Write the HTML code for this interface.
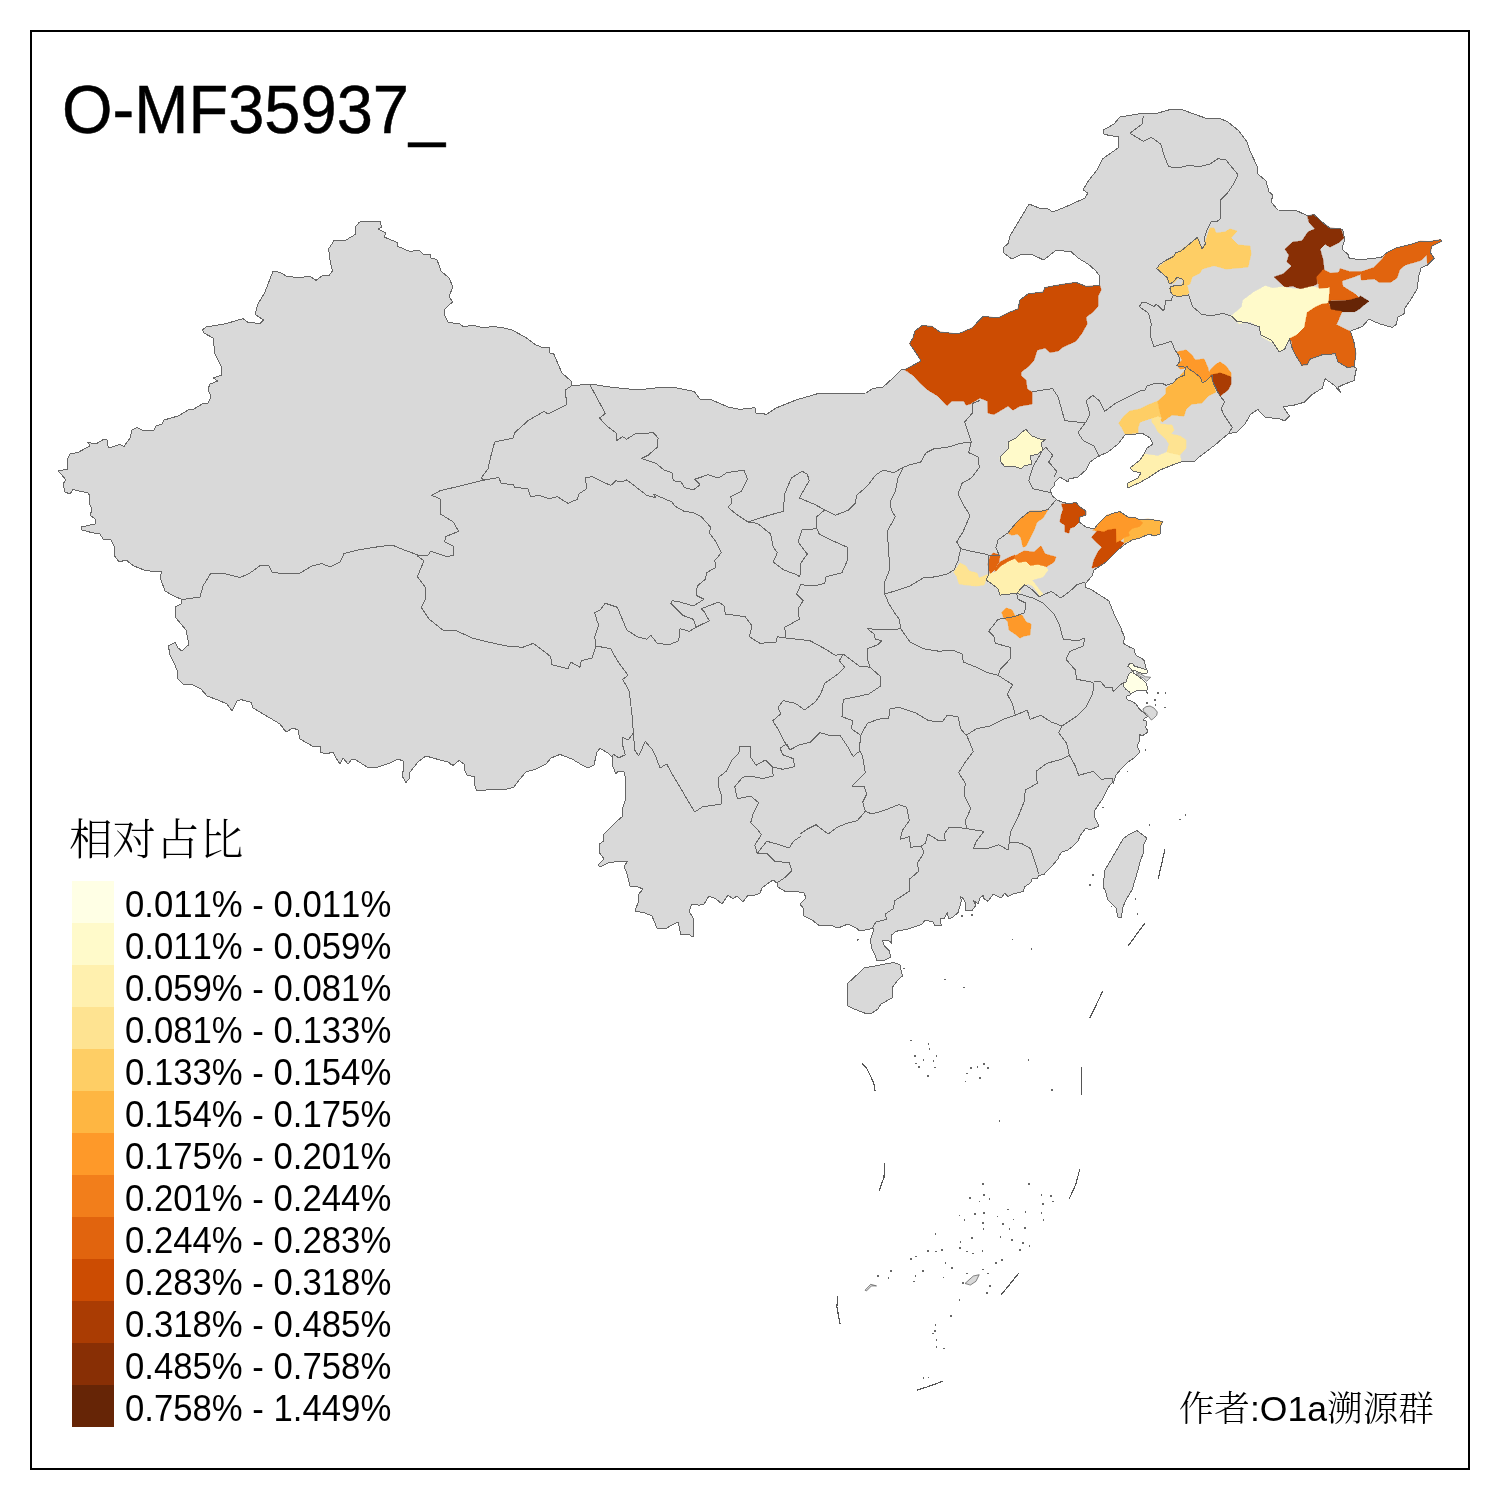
<!DOCTYPE html>
<html lang="zh">
<head>
<meta charset="utf-8">
<title>O-MF35937_</title>
<style>
html,body{margin:0;padding:0;background:#fff;}
body{width:1500px;height:1500px;position:relative;overflow:hidden;}
svg{position:absolute;left:0;top:0;display:block;}
.t{position:absolute;white-space:nowrap;color:#000;line-height:1;margin:0;font-kerning:none;font-variant-ligatures:none;}
.title{left:62.2px;top:76.1px;-webkit-text-stroke:0.5px #000;font-family:"Liberation Sans",sans-serif;font-size:67.9px;transform:scaleX(0.958);transform-origin:0 0;}
.ltitle{left:68.9px;top:819.3px;font-family:"Liberation Serif","Noto Serif CJK SC",serif;font-size:43.6px;font-weight:300;}
.lab{left:124.6px;font-family:"Liberation Sans",sans-serif;font-size:36px;transform:scaleX(0.964);transform-origin:0 0;}
.credit{left:1178.8px;top:1392.4px;font-size:35.6px;font-weight:300;font-family:"Liberation Sans","Noto Serif CJK SC",serif;}

</style>
</head>
<body>
<svg width="1500" height="1500" viewBox="0 0 1500 1500">
<rect x="0" y="0" width="1500" height="1500" fill="#ffffff"/>
<g id="map" stroke-linejoin="round" stroke-linecap="round" shape-rendering="crispEdges">
<path d="M90 496 L88 493 L73 489.6 L70 494 L65 492 L63 484 L66 480 L58.4 471 L68 469 L67 460 L70 454 L78 452.4 L90 446 L88 442.4 L96 444 L104 439 L107 440 L108.4 448 L120 444.4 L124 446.4 L130 438 L132 430 L137 427.6 L142 430 L154 430 L156 426 L162 424 L164 420 L178 416 L190 409 L194 409 L202 404 L208 403 L211 397 L208 389 L210 384 L218 381 L213 378 L222 375 L221 366 L215 354 L213 338 L204 333 L202.4 330 L206 327 L226 323.6 L243 318.6 L248 322.4 L260 323.4 L263.6 320 L255 314.4 L258 304 L265 292 L273 271 L280 272.4 L287 276.4 L298 277.6 L310 276.4 L316 280.4 L322 276 L329 275.4 L332.4 271 L330 260 L328.6 249 L334 240.6 L346 240 L356 234 L355 227 L359.6 222 L380 221 L381.6 227 L378.4 229 L386 233 L384 237 L397 242.4 L398 246.4 L410 251.6 L419 250 L424 255 L430 254.4 L431 258 L437 259.6 L441 271 L449 278 L453 287 L449 296 L452.4 302 L445 309 L444.4 315 L448.4 322.4 L460 324 L463 326.4 L474 325.6 L485 328 L492 326.4 L502 327.6 L512 330 L526 337.6 L536 345 L543 347.6 L550 347 L549.6 353 L553.6 353.6 L562 373 L571 381 L572 385.6 L588 384.4 L590 384 L610 387 L638 390 L660 387.4 L674 387.4 L694 391.4 L700 399 L712 400 L728 407 L740 409.4 L755 407.6 L755.6 413 L764 413.6 L765.6 415 L776 408 L796 400 L820 393 L832 393.6 L866 393 L873 388.4 L883 387 L893 378 L901 370 L905 369.6 L921 361 L918 356 L909.6 343.6 L913 338 L915 331 L922 325.6 L932 326.4 L940 332 L958 334 L972 328 L983 316.4 L998 318 L1010 312 L1018 309 L1020 300 L1028 294 L1043 292 L1045 287.6 L1062 284.4 L1076 282.4 L1086 286.4 L1100 285.6 L1099 275 L1095 270 L1088 264 L1078 258 L1071 251.6 L1056 250.4 L1043.6 260 L1032 254.4 L1020 255 L1011.6 259 L1004 253 L1003 248 L1008 243.6 L1010 236 L1029 204 L1040 208.4 L1048 209 L1053 212 L1070 205 L1085 198 L1088 193 L1083 190 L1089 180 L1097 170 L1102.4 159 L1118 148 L1119 137 L1104 134.4 L1103.6 130 L1114 124 L1120 117 L1138 114 L1156 113.6 L1170 109.6 L1182 109.6 L1194 114 L1208 119 L1220 118.4 L1228 122 L1239 131 L1247 142 L1250 151 L1257 166 L1258 174 L1266 181 L1269 192 L1273 195 L1271 202 L1278 210 L1296 210.4 L1308 216 L1314 214.4 L1322 222 L1330 228 L1341 229 L1342.8 229.5 L1344.7 239.7 L1341.9 249.1 L1348.4 254.7 L1349.3 258.8 L1364.3 259.3 L1381.1 257.5 L1386.7 252.8 L1396 248.1 L1410.9 244.4 L1420.3 241.2 L1429.6 241.6 L1440.8 239.7 L1441.7 241.2 L1431.5 246.3 L1430.5 252.8 L1434.3 258.4 L1427.7 264.9 L1421.2 267.7 L1418.4 277.1 L1417.5 288.3 L1410.9 299.5 L1404.4 308.8 L1404.4 313.5 L1397.9 317.2 L1396 324.7 L1392.3 327.5 L1379.2 323.7 L1368.9 319.1 L1362.4 326.5 L1350.3 331.2 L1354 342.4 L1355.9 353.6 L1354 366.7 L1356.4 368.5 L1354 380.7 L1343.7 384.4 L1338.1 387.2 L1340.9 392.8 L1334.4 385.3 L1325.1 378.8 L1322.3 388.1 L1312 394.7 L1304.5 402.1 L1295.2 404.9 L1283.1 406.8 L1289.6 416.1 L1284.9 420.8 L1279.3 418.9 L1265.3 417.1 L1257.9 409.6 L1250.4 414.3 L1244.8 424.5 L1237.3 432 L1228 433.9 L1214.9 445.1 L1200 456.3 L1195 461 L1181 462 L1174 464.4 L1160 470 L1148 478 L1140 482.4 L1128 488 L1127 483.6 L1138 478 L1141 473 L1133 471 L1130 468 L1140 460 L1144 454 L1147 448 L1153 444 L1150 438 L1143 433.6 L1136 434 L1125 435 L1118 444 L1108 452 L1098 456.4 L1090 462 L1086 470 L1078 477 L1069 479 L1068 482 L1060 477 L1055 482 L1054 486 L1050 490 L1052.4 496 L1057 500 L1062 502 L1069 504 L1076 502.4 L1080 507 L1086 511 L1085.6 515 L1080 517 L1079 522 L1086 527 L1094 529 L1098 524 L1106 516 L1114 513 L1120 511.6 L1128 517 L1136 518 L1140 520 L1148 519 L1163 521.6 L1160 527 L1160 534 L1154 536 L1149 534 L1140 538 L1132 540 L1124 545 L1118 550 L1112 556 L1106 562 L1100 566 L1094 570 L1092 576 L1086 583 L1085 587 L1092 590 L1109 601 L1114 614 L1122 630 L1121.3 630 L1123.3 634 L1124.7 638.7 L1123 642.7 L1124.7 644.3 L1130 647.3 L1134 648.7 L1134.7 652.7 L1136.7 655.7 L1141.3 658 L1144.7 661.3 L1145.3 666 L1146.7 669.3 L1147.7 672.7 L1144.7 674 L1139.3 672.7 L1136 671 L1133.7 670.7 L1132.7 671.9 L1134 673.3 L1138 676 L1143.3 680 L1146.3 683.3 L1147.3 686.7 L1147 690 L1146.7 692 L1148 694.3 L1146.7 692.3 L1146.3 690.3 L1137.3 690.3 L1130.7 693.7 L1130 695 L1126.3 696.3 L1126.3 698.3 L1128 700 L1132.7 701.7 L1136 704 L1138.7 708 L1141.3 711 L1144.7 713 L1147.3 716.7 L1144 718.7 L1143.3 720.3 L1146.7 721.3 L1147 724.7 L1145.3 727 L1147.3 730 L1148 732 L1142 736 L1139 734 L1140 740 L1137 746 L1140 752 L1134 758 L1128 762 L1122 768 L1116 775 L1114 781 L1111 784 L1108 788 L1105 794 L1102 800 L1099 804 L1095 810 L1094 816 L1097 822 L1099 826 L1090 830 L1086 828 L1080 836 L1078 841 L1072 847 L1068 850 L1062 852 L1059 856 L1058 859 L1052 866 L1046 872 L1044 874.7 L1038.7 875.3 L1037.3 878.7 L1032 878.7 L1030.7 882.7 L1024.7 886.7 L1023.3 891.3 L1013.3 894 L1008 896.7 L1004.7 893.3 L1001.3 898 L993.3 894 L988 901.3 L984 898.7 L983.3 895.3 L979.3 898.7 L978.7 904 L973.3 900.7 L976 905.3 L972 910.7 L965.3 910 L965.3 902.7 L963.3 898.7 L960.7 896.7 L961.3 901.3 L958 912.7 L952.7 917.3 L948.7 918.7 L947.3 912.7 L944 918.7 L940 918.7 L941.3 925.3 L934.7 925.3 L932.7 921.3 L924.7 920.7 L921.3 924.7 L913.3 927.3 L906.7 929.3 L896 931.3 L891.3 935.3 L892 943.3 L888 940 L882.7 940.7 L884 945.3 L889.3 950.7 L890.7 957.3 L885.3 960 L884 960 L877 961 L875 955 L871.6 948 L870.4 940 L873 932 L873 928 L870 929 L860 931 L856 928 L848 924 L838 928 L830 925 L820 926 L812 920 L804 916 L803 908 L800 904 L806 898 L804 893 L794 891 L786 892 L778 887 L777 883 L773 880 L767 884 L762 888 L760 893 L753 896 L748 895 L743 902 L737 896 L733 899 L728 895 L722 904 L716 899 L709 896 L704 904 L700 905 L698 905 L692 904 L689 911 L693 918 L694 926 L693 937 L688 934 L681 935 L678 922 L672 925 L665 929 L657 928 L652 916 L645 913 L635 911 L639 900 L638 895 L643 889 L638 887 L630 886 L627 874 L624 866 L628 861 L620 861 L608 863 L600 867 L598 865 L604 859 L599 852 L599 844 L604 841 L603 835 L610 828 L616 822 L623 816 L622 810 L626 798 L625.6 778 L624 772 L618 771 L616 774 L613 767 L612 757 L608 753 L600 748.4 L597 752 L594 765 L588 768 L582 765 L572 759 L560 754.4 L551 758 L546 764 L536 769 L526 772 L520 779 L514 787 L504 790 L490 789.6 L477 791 L474 784 L475 777 L467 775 L464 769 L465 765 L459 760.4 L454 765 L450 764 L454 766 L448 762 L440 760 L426 756 L418 762 L410 772 L409 779 L406 782.4 L402 776 L404 767 L403 761 L398 759 L390 763 L378 767 L367 767 L356 760 L352 759 L348 764 L343 758 L340 764 L336 758 L333 752 L326 754 L320 752 L320 746 L314 747 L300 739 L298 730 L293 728 L286 732 L280 724 L270 718 L253 708 L251 702.4 L241 699.6 L237 701 L232 711 L227 704 L218 700 L207 696 L201 689 L191 684 L183 684 L177 678 L177 670 L174 663 L170 655 L168.4 646 L175 642.4 L178 648 L182 651 L189 644.4 L186 630 L176 618 L175 607 L181 604 L182 599.6 L172 595 L165 591 L160 577 L162 571 L154 571.6 L144 570 L134 566 L126 560 L119 562 L114 555 L115 548 L111 540 L103 539 L100 534 L91 532.4 L82 530 L81 527 L95 524 L95 519 L90 515 L92 510 L89 502 Z" fill="#d9d9d9" stroke="none"/>
<path d="M1137 830.6 L1147 838 L1144 844 L1143.6 852 L1140 862 L1138 870 L1135 880 L1132 890 L1126 900 L1122.4 908 L1121.6 918 L1118 917 L1116 908 L1108 900 L1105 890 L1103 887 L1105 870 L1112 858 L1118 848 L1123 839 L1128 835 Z" fill="#d9d9d9" stroke="#666666" stroke-width="1"/>
<path d="M847 984 L860 972 L864 968 L880 965 L894 962.4 L900 965 L902.4 976 L897 981 L892 988 L892 998 L881 1004 L878 1009 L872 1013 L866 1013.6 L854 1009 L848 1006 L847 995 Z" fill="#d9d9d9" stroke="#666666" stroke-width="1"/>
<path d="M965.3 1283.2 L973.3 1276 L979.2 1274.7 L976 1281.3 L970.7 1284.8 Z" fill="#d9d9d9" stroke="#666666" stroke-width="0.8"/>
<path d="M865.3 1289.9 L870.7 1284.3 L876.5 1285.9 L871.5 1285.9 L866.7 1290.7 Z" fill="#d9d9d9" stroke="#666666" stroke-width="0.8"/>
<path d="M1143.3 708.7 L1146 706.7 L1150 706 L1154 708 L1157.3 712 L1156.7 715.3 L1153.3 718.7 L1151.3 720 L1148.7 716.7 L1146.7 714 L1144 712 Z" fill="#d9d9d9" stroke="#666666" stroke-width="0.8"/>
<path d="M1136.7 672.7 L1140.7 674 L1145.3 676.7 L1150.7 677.3 L1148.7 679.3 L1146.7 681.3 L1143.3 678 L1139.3 676 Z" fill="#d9d9d9" stroke="#666666" stroke-width="0.8"/>
<path d="M905 369.6 L921 361 L918 356 L909.6 343.6 L913 338 L915 331 L922 325.6 L932 326.4 L940 332 L958 334 L972 328 L983 316.4 L998 318 L1010 312 L1018 309 L1020 300 L1028 294 L1043 292 L1045 287.6 L1062 284.4 L1076 282.4 L1086 286.4 L1100 285.6 L1101 290 L1098 296 L1098 306 L1093 312 L1086 317 L1087 324 L1082 333 L1076 341 L1063 347 L1058 351 L1050 352.4 L1045 348 L1037 350 L1034 360 L1029 366 L1021 372 L1021 376 L1026 380 L1027 389 L1032 392 L1032 404 L1020 406 L1013 410 L1008 406 L994 414.4 L988 413 L987.6 401 L980 398 L970 404 L966 405 L964 401 L952 401 L947 405.6 L938 396 L928 390 L920 383 L914 376 Z" fill="#cc4c02" stroke="#cc4c02" stroke-width="0.6"/>
<path d="M1157 268 L1174 255 L1198 237.6 L1202 249 L1205 243 L1210 228 L1214 228 L1216 233 L1225 232 L1230 229 L1237 231 L1231 238 L1238 245 L1250 246 L1251 254 L1248 267 L1226 269 L1214 265.6 L1202 269 L1200 273 L1192 277 L1190 284 L1187 285 L1189 293 L1186 295.6 L1174 296 L1169.4 289 L1171 286.4 L1182 285 L1183.6 280 L1178 278 L1174 283 L1169 283.6 L1165 275 Z" fill="#fece65" stroke="#fece65" stroke-width="0.6"/>
<path d="M1308 216 L1314 214.4 L1322 222 L1330 228 L1341 229 L1344 238 L1339 242.4 L1330 247 L1325 244 L1320 249 L1323 260 L1324 270 L1318 277 L1317 284 L1308 288 L1300 289 L1293 286 L1285 287 L1274 277 L1283 274 L1292 266 L1287 262 L1289 255 L1285 249 L1293 242 L1302 241 L1308 232 L1315 229 L1309 222 Z" fill="#882f05" stroke="#882f05" stroke-width="0.6"/>
<path d="M1230.8 316.3 L1242 306.9 L1242.9 300.4 L1254.1 292 L1265.3 286 L1272.8 288.3 L1283.1 286.8 L1289.6 288.3 L1300.8 289.2 L1312 286.4 L1319.5 288.3 L1329.7 287.3 L1329.7 292 L1328.8 303.2 L1322.3 304.1 L1315.7 306.9 L1307.3 312.5 L1304.5 327.5 L1297.1 334.9 L1289.6 338.7 L1283.1 349.9 L1279.3 351.7 L1271.9 342.4 L1261.6 336.8 L1259.7 327.5 L1250.4 321.9 L1239.2 323.7 Z" fill="#fffaca" stroke="#fffaca" stroke-width="0.6"/>
<path d="M1316.7 277.1 L1323.2 269.6 L1330.7 273.3 L1339.1 272.4 L1340 268.7 L1349.3 271.5 L1362.4 271.5 L1373.6 267.7 L1382 259.3 L1386.7 252.8 L1396 248.1 L1410.9 244.4 L1420.3 241.2 L1429.6 241.6 L1440.8 239.7 L1441.7 241.2 L1431.5 246.3 L1430.5 252.8 L1434.3 258.4 L1427.7 264.9 L1426.8 254.7 L1421.2 260.3 L1405.3 264.9 L1399.7 269.6 L1396.9 278 L1390.4 282.3 L1379.2 282.3 L1374.5 278.9 L1361.5 279.9 L1360.5 274.3 L1353.1 277.1 L1341.9 280.8 L1342.8 286.4 L1354.9 293.9 L1358.7 297.6 L1348.4 300.4 L1330.7 300.4 L1328.8 303.2 L1329.7 292 L1329.7 287.3 L1319.5 288.3 Z" fill="#e1640e" stroke="#e1640e" stroke-width="0.6"/>
<path d="M1328.8 301.3 L1348.4 300.4 L1358.7 297.6 L1360.5 296.1 L1368.9 301.3 L1364.3 304.7 L1359.6 308.8 L1354.9 311.6 L1341.9 311.6 L1330.7 309.7 Z" fill="#662506" stroke="#662506" stroke-width="0.6"/>
<path d="M1289.6 338.7 L1297.1 334.9 L1304.5 327.5 L1307.3 312.5 L1315.7 306.9 L1322.3 304.1 L1328.8 303.2 L1330.7 309.7 L1341.9 311.6 L1336.3 324.7 L1347.5 330.3 L1350.3 331.2 L1354 342.4 L1355.9 353.6 L1354 366.7 L1347.5 367.6 L1338.1 362 L1335.3 353.6 L1328.8 354.5 L1323.2 354.5 L1310.1 359.2 L1307.3 364.8 L1301.7 365.2 L1297.1 357.3 L1292.4 348.9 L1291.5 340.5 Z" fill="#e1640e" stroke="#e1640e" stroke-width="0.6"/>
<path d="M1144 454 L1158 456 L1167 452 L1180 455 L1181 461 L1174 464.4 L1160 470 L1148 478 L1140 482.4 L1128 488 L1127 483.6 L1138 478 L1141 473 L1133 471 L1130 468 L1140 460 Z" fill="#fff0ae" stroke="#fff0ae" stroke-width="0.6"/>
<path d="M1152 418 L1158 416 L1161 419 L1160 424 L1172 425 L1174 430 L1171 434 L1180 436 L1186 440 L1186 448 L1180 455 L1167 452 L1169 444 L1166 439 L1158 432 L1155 426 L1152 422 Z" fill="#fee391" stroke="#fee391" stroke-width="0.6"/>
<path d="M1119 423 L1124 416 L1130 411 L1140 409 L1148 405 L1158 401 L1160 412 L1162 418 L1158 416 L1152 418 L1140 422 L1138 428 L1138 433 L1125 434 L1122 428 Z" fill="#fece65" stroke="#fece65" stroke-width="0.6"/>
<path d="M1158 401 L1166 394 L1166 388 L1174 383 L1180 376 L1187 368 L1194 373 L1201 379 L1204 382 L1211 375 L1214 386 L1216 392 L1208 396 L1202 403 L1192 404 L1186 409 L1184 416 L1172 415 L1162 422 L1161 419 L1162 418 L1160 412 Z" fill="#feb642" stroke="#feb642" stroke-width="0.6"/>
<path d="M1177 352 L1186 350 L1192 355 L1195 360 L1204 359 L1208 368 L1209 373 L1211 375 L1204 382 L1201 379 L1194 373 L1187 368 L1180 369 L1177 365 L1182 360 L1180 356 Z" fill="#fe9929" stroke="#fe9929" stroke-width="0.6"/>
<path d="M1211 369 L1215 365 L1220 362 L1226 366 L1231 373 L1231 377 L1226 375 L1220 373 L1214 374.4 L1211 375 L1209 373 Z" fill="#fe9929" stroke="#fe9929" stroke-width="0.6"/>
<path d="M1211 375 L1214 374.4 L1220 373 L1226 375 L1231 377 L1231 384 L1228 390 L1220 396 L1217 390 L1214 384 L1212 379 Z" fill="#aa3c03" stroke="#aa3c03" stroke-width="0.6"/>
<path d="M1000 457 L1004 453 L1008 449 L1008 442 L1016 438 L1022 432 L1026 429.6 L1032 436 L1040 439 L1046 439 L1041 443 L1043 450 L1038 454 L1030 456 L1032 464 L1024 466 L1021 469 L1014 466 L1004 466 L1001 462 Z" fill="#fffaca" stroke="#fffaca" stroke-width="0.6"/>
<path d="M1008 533 L1016 523 L1020 519 L1030 511 L1042 511 L1048 509.6 L1043 518 L1037 522 L1034 530 L1031 536 L1026 546 L1023 547 L1021 538 L1018 534 L1012 535 Z" fill="#fe9929" stroke="#fe9929" stroke-width="0.6"/>
<path d="M1062 504 L1069 504 L1076 502.4 L1080 507 L1086 511 L1086 515 L1080 517 L1079 522 L1074 527 L1070 528 L1069 533 L1065 532 L1065 525 L1060 522 L1061 516 L1063 510 Z" fill="#cc4c02" stroke="#cc4c02" stroke-width="0.6"/>
<path d="M1093 530 L1098 525 L1107 515 L1120 512 L1128 517 L1136 518 L1140 520 L1143 523 L1140 527 L1132 529 L1129 532 L1130 536 L1124 538 L1120 541 L1116 543 L1115.6 529 L1108 530 L1104 532 L1097 531 Z" fill="#fe9929" stroke="#fe9929" stroke-width="0.6"/>
<path d="M1140 520 L1148 519 L1163 521.6 L1160 527 L1160 534 L1154 536 L1149 534 L1140 538 L1132 540 L1124 543 L1124 538 L1130 536 L1129 532 L1132 529 L1140 527 L1143 523 Z" fill="#feb642" stroke="#feb642" stroke-width="0.6"/>
<path d="M1092 537 L1097 531 L1104 532 L1108 530 L1115.6 529 L1116 543 L1120 541 L1124 543 L1118 550 L1112 556 L1106 562 L1100 566 L1092 568 L1094 560 L1098 552 L1102 547 L1096 542 Z" fill="#cc4c02" stroke="#cc4c02" stroke-width="0.6"/>
<path d="M988 564 L990 557 L993 553 L1000 555 L999 562 L994 570 L990 574 L989 568 Z" fill="#e1640e" stroke="#e1640e" stroke-width="0.6"/>
<path d="M994 570 L1000 562 L1008 558 L1015 555 L1016 558 L1008 562 L1000 567 L996 572 Z" fill="#e1640e" stroke="#e1640e" stroke-width="0.6"/>
<path d="M1015 556 L1024 551 L1034 552 L1041 546 L1045 554 L1056 557 L1054 562 L1046 567 L1038 565 L1030 566 L1026 562 L1018 563 L1015 559 Z" fill="#f27e1b" stroke="#f27e1b" stroke-width="0.6"/>
<path d="M986 580 L989 574 L996 572 L1000 567 L1008 562 L1015 559 L1018 563 L1026 562 L1030 566 L1038 565 L1046 567 L1048 570 L1043 577 L1032 580 L1038 588 L1043 594 L1040 596 L1033 586 L1028 584 L1021 587 L1020 593 L1010 594 L1000 595 L998 589 L992 584 Z" fill="#fff0ae" stroke="#fff0ae" stroke-width="0.6"/>
<path d="M954 572 L960 563 L966 566 L969 571 L977 573 L979 578 L989 574 L986 580 L984 585 L976 586 L966 585 L959 584 L957 577 Z" fill="#fee391" stroke="#fee391" stroke-width="0.6"/>
<path d="M1002 612 L1006 608 L1012 610 L1015 616 L1022 615 L1026 622 L1031 624 L1030 635 L1024 636 L1020 638 L1015 634 L1009 630 L1008 622 L1004 618 Z" fill="#fe9929" stroke="#fe9929" stroke-width="0.6"/>
<path d="M1122.7 683.3 L1126.3 682 L1127.3 678 L1128.7 674 L1131.7 672 L1134 673.3 L1138 676 L1143.3 680 L1146.3 683.3 L1147.3 686.7 L1147 690 L1137.3 690.3 L1130.7 693.7 L1129.3 691.7 L1126.3 689.7 L1124.3 687.3 Z" fill="#ffffe5" stroke="#ffffe5" stroke-width="0.6"/>
<path d="M1127.7 666.3 L1130 663.3 L1132.7 663.1 L1134.3 666 L1140.7 668 L1146.7 669.7 L1147.7 673 L1144.7 674 L1139.3 672.7 L1136 671 L1133.7 670.7 L1131.3 669.3 L1129.3 667.3 Z" fill="#ffffe5" stroke="#ffffe5" stroke-width="0.6"/>
<path d="M90 496 L88 493 L73 489.6 L70 494 L65 492 L63 484 L66 480 L58.4 471 L68 469 L67 460 L70 454 L78 452.4 L90 446 L88 442.4 L96 444 L104 439 L107 440 L108.4 448 L120 444.4 L124 446.4 L130 438 L132 430 L137 427.6 L142 430 L154 430 L156 426 L162 424 L164 420 L178 416 L190 409 L194 409 L202 404 L208 403 L211 397 L208 389 L210 384 L218 381 L213 378 L222 375 L221 366 L215 354 L213 338 L204 333 L202.4 330 L206 327 L226 323.6 L243 318.6 L248 322.4 L260 323.4 L263.6 320 L255 314.4 L258 304 L265 292 L273 271 L280 272.4 L287 276.4 L298 277.6 L310 276.4 L316 280.4 L322 276 L329 275.4 L332.4 271 L330 260 L328.6 249 L334 240.6 L346 240 L356 234 L355 227 L359.6 222 L380 221 L381.6 227 L378.4 229 L386 233 L384 237 L397 242.4 L398 246.4 L410 251.6 L419 250 L424 255 L430 254.4 L431 258 L437 259.6 L441 271 L449 278 L453 287 L449 296 L452.4 302 L445 309 L444.4 315 L448.4 322.4 L460 324 L463 326.4 L474 325.6 L485 328 L492 326.4 L502 327.6 L512 330 L526 337.6 L536 345 L543 347.6 L550 347 L549.6 353 L553.6 353.6 L562 373 L571 381 L572 385.6 L588 384.4 L590 384 L610 387 L638 390 L660 387.4 L674 387.4 L694 391.4 L700 399 L712 400 L728 407 L740 409.4 L755 407.6 L755.6 413 L764 413.6 L765.6 415 L776 408 L796 400 L820 393 L832 393.6 L866 393 L873 388.4 L883 387 L893 378 L901 370 L905 369.6 L921 361 L918 356 L909.6 343.6 L913 338 L915 331 L922 325.6 L932 326.4 L940 332 L958 334 L972 328 L983 316.4 L998 318 L1010 312 L1018 309 L1020 300 L1028 294 L1043 292 L1045 287.6 L1062 284.4 L1076 282.4 L1086 286.4 L1100 285.6 L1099 275 L1095 270 L1088 264 L1078 258 L1071 251.6 L1056 250.4 L1043.6 260 L1032 254.4 L1020 255 L1011.6 259 L1004 253 L1003 248 L1008 243.6 L1010 236 L1029 204 L1040 208.4 L1048 209 L1053 212 L1070 205 L1085 198 L1088 193 L1083 190 L1089 180 L1097 170 L1102.4 159 L1118 148 L1119 137 L1104 134.4 L1103.6 130 L1114 124 L1120 117 L1138 114 L1156 113.6 L1170 109.6 L1182 109.6 L1194 114 L1208 119 L1220 118.4 L1228 122 L1239 131 L1247 142 L1250 151 L1257 166 L1258 174 L1266 181 L1269 192 L1273 195 L1271 202 L1278 210 L1296 210.4 L1308 216 L1314 214.4 L1322 222 L1330 228 L1341 229 L1342.8 229.5 L1344.7 239.7 L1341.9 249.1 L1348.4 254.7 L1349.3 258.8 L1364.3 259.3 L1381.1 257.5 L1386.7 252.8 L1396 248.1 L1410.9 244.4 L1420.3 241.2 L1429.6 241.6 L1440.8 239.7 L1441.7 241.2 L1431.5 246.3 L1430.5 252.8 L1434.3 258.4 L1427.7 264.9 L1421.2 267.7 L1418.4 277.1 L1417.5 288.3 L1410.9 299.5 L1404.4 308.8 L1404.4 313.5 L1397.9 317.2 L1396 324.7 L1392.3 327.5 L1379.2 323.7 L1368.9 319.1 L1362.4 326.5 L1350.3 331.2 L1354 342.4 L1355.9 353.6 L1354 366.7 L1356.4 368.5 L1354 380.7 L1343.7 384.4 L1338.1 387.2 L1340.9 392.8 L1334.4 385.3 L1325.1 378.8 L1322.3 388.1 L1312 394.7 L1304.5 402.1 L1295.2 404.9 L1283.1 406.8 L1289.6 416.1 L1284.9 420.8 L1279.3 418.9 L1265.3 417.1 L1257.9 409.6 L1250.4 414.3 L1244.8 424.5 L1237.3 432 L1228 433.9 L1214.9 445.1 L1200 456.3 L1195 461 L1181 462 L1174 464.4 L1160 470 L1148 478 L1140 482.4 L1128 488 L1127 483.6 L1138 478 L1141 473 L1133 471 L1130 468 L1140 460 L1144 454 L1147 448 L1153 444 L1150 438 L1143 433.6 L1136 434 L1125 435 L1118 444 L1108 452 L1098 456.4 L1090 462 L1086 470 L1078 477 L1069 479 L1068 482 L1060 477 L1055 482 L1054 486 L1050 490 L1052.4 496 L1057 500 L1062 502 L1069 504 L1076 502.4 L1080 507 L1086 511 L1085.6 515 L1080 517 L1079 522 L1086 527 L1094 529 L1098 524 L1106 516 L1114 513 L1120 511.6 L1128 517 L1136 518 L1140 520 L1148 519 L1163 521.6 L1160 527 L1160 534 L1154 536 L1149 534 L1140 538 L1132 540 L1124 545 L1118 550 L1112 556 L1106 562 L1100 566 L1094 570 L1092 576 L1086 583 L1085 587 L1092 590 L1109 601 L1114 614 L1122 630 L1121.3 630 L1123.3 634 L1124.7 638.7 L1123 642.7 L1124.7 644.3 L1130 647.3 L1134 648.7 L1134.7 652.7 L1136.7 655.7 L1141.3 658 L1144.7 661.3 L1145.3 666 L1146.7 669.3 L1147.7 672.7 L1144.7 674 L1139.3 672.7 L1136 671 L1133.7 670.7 L1132.7 671.9 L1134 673.3 L1138 676 L1143.3 680 L1146.3 683.3 L1147.3 686.7 L1147 690 L1146.7 692 L1148 694.3 L1146.7 692.3 L1146.3 690.3 L1137.3 690.3 L1130.7 693.7 L1130 695 L1126.3 696.3 L1126.3 698.3 L1128 700 L1132.7 701.7 L1136 704 L1138.7 708 L1141.3 711 L1144.7 713 L1147.3 716.7 L1144 718.7 L1143.3 720.3 L1146.7 721.3 L1147 724.7 L1145.3 727 L1147.3 730 L1148 732 L1142 736 L1139 734 L1140 740 L1137 746 L1140 752 L1134 758 L1128 762 L1122 768 L1116 775 L1114 781 L1111 784 L1108 788 L1105 794 L1102 800 L1099 804 L1095 810 L1094 816 L1097 822 L1099 826 L1090 830 L1086 828 L1080 836 L1078 841 L1072 847 L1068 850 L1062 852 L1059 856 L1058 859 L1052 866 L1046 872 L1044 874.7 L1038.7 875.3 L1037.3 878.7 L1032 878.7 L1030.7 882.7 L1024.7 886.7 L1023.3 891.3 L1013.3 894 L1008 896.7 L1004.7 893.3 L1001.3 898 L993.3 894 L988 901.3 L984 898.7 L983.3 895.3 L979.3 898.7 L978.7 904 L973.3 900.7 L976 905.3 L972 910.7 L965.3 910 L965.3 902.7 L963.3 898.7 L960.7 896.7 L961.3 901.3 L958 912.7 L952.7 917.3 L948.7 918.7 L947.3 912.7 L944 918.7 L940 918.7 L941.3 925.3 L934.7 925.3 L932.7 921.3 L924.7 920.7 L921.3 924.7 L913.3 927.3 L906.7 929.3 L896 931.3 L891.3 935.3 L892 943.3 L888 940 L882.7 940.7 L884 945.3 L889.3 950.7 L890.7 957.3 L885.3 960 L884 960 L877 961 L875 955 L871.6 948 L870.4 940 L873 932 L873 928 L870 929 L860 931 L856 928 L848 924 L838 928 L830 925 L820 926 L812 920 L804 916 L803 908 L800 904 L806 898 L804 893 L794 891 L786 892 L778 887 L777 883 L773 880 L767 884 L762 888 L760 893 L753 896 L748 895 L743 902 L737 896 L733 899 L728 895 L722 904 L716 899 L709 896 L704 904 L700 905 L698 905 L692 904 L689 911 L693 918 L694 926 L693 937 L688 934 L681 935 L678 922 L672 925 L665 929 L657 928 L652 916 L645 913 L635 911 L639 900 L638 895 L643 889 L638 887 L630 886 L627 874 L624 866 L628 861 L620 861 L608 863 L600 867 L598 865 L604 859 L599 852 L599 844 L604 841 L603 835 L610 828 L616 822 L623 816 L622 810 L626 798 L625.6 778 L624 772 L618 771 L616 774 L613 767 L612 757 L608 753 L600 748.4 L597 752 L594 765 L588 768 L582 765 L572 759 L560 754.4 L551 758 L546 764 L536 769 L526 772 L520 779 L514 787 L504 790 L490 789.6 L477 791 L474 784 L475 777 L467 775 L464 769 L465 765 L459 760.4 L454 765 L450 764 L454 766 L448 762 L440 760 L426 756 L418 762 L410 772 L409 779 L406 782.4 L402 776 L404 767 L403 761 L398 759 L390 763 L378 767 L367 767 L356 760 L352 759 L348 764 L343 758 L340 764 L336 758 L333 752 L326 754 L320 752 L320 746 L314 747 L300 739 L298 730 L293 728 L286 732 L280 724 L270 718 L253 708 L251 702.4 L241 699.6 L237 701 L232 711 L227 704 L218 700 L207 696 L201 689 L191 684 L183 684 L177 678 L177 670 L174 663 L170 655 L168.4 646 L175 642.4 L178 648 L182 651 L189 644.4 L186 630 L176 618 L175 607 L181 604 L182 599.6 L172 595 L165 591 L160 577 L162 571 L154 571.6 L144 570 L134 566 L126 560 L119 562 L114 555 L115 548 L111 540 L103 539 L100 534 L91 532.4 L82 530 L81 527 L95 524 L95 519 L90 515 L92 510 L89 502 Z" fill="none" stroke="#666666" stroke-width="1"/>
<path d="M572 385.5 L565.3 390 L566.7 404.7 L548 414 L544 411.3 L528 420.7 L514.7 432.7 L513.3 438 L494.7 442 L490.7 456.7 L488 468.7 L481.3 478 L484 480.1 L440 490.8 L431.5 495.3 L440 498.8 L440.5 514 L453.3 522 L458.7 531.3 L445.3 536.7 L444.8 542 L453.3 546 L453.9 555.3 L446.7 556.7 L430.7 551.3 L428 555.3 L417.3 555.9 M484 480.1 L498.7 477.5 L501.3 483.3 L513.3 484.7 L514.7 487.3 L528 488.7 L530.7 496.7 L538.7 495.3 L549.3 498.8 L557.3 496.7 L568 503.3 L577.3 499.3 L578.7 494 L586.7 488.7 L585.3 478 L592 476.7 L610.7 485.5 L616 480.7 L621.3 482 L626.7 479.9 L634.7 486 L646.7 495.3 L656 498 L653.3 494 L672 502 L674.7 506 L684 511.3 L693.3 512.7 L701.3 516.7 L710.7 527.3 L709.3 532.7 L716 542 L721.3 552.7 L714.7 560.7 L716 567.3 L706.7 572.7 L705.3 579.3 L697.3 586 L696 595.3 L704 599.3 L693.3 606 L680 602 L672 600.7 L670.7 603.3 L682.7 615.3 L693.3 619.3 L696 627.3 M696 627.3 L689.3 631.3 L680 628.7 L678.7 640.7 L669.3 644.7 L657.3 643.3 L650.7 635.3 L646.7 639.3 L637.3 636.7 L626.7 630 L621.3 616.7 L617.3 607.3 L605.3 603.3 L600 610 L594.7 612.7 L597.3 622 M417.3 555.9 L424 560.7 L417.3 576.7 L425.3 587.3 L425.3 599.3 L421.3 607.3 L429.3 619.3 L442.7 630 L456 630.5 L472 638 L488 642 L506.7 646 L522.7 647.3 L533.3 643.3 L544 651.3 L550.7 656.7 L552 664.7 L568 668.7 L570.7 662 L580 667.3 L581.3 660.7 L592 658 L596 646 L594.7 636.7 L598.7 624.7 L597.3 622 M596 646 L610.7 648.7 L617.3 660.7 L628 675.3 L622.7 679.3 L629.3 691.3 L632 715.3 L633.3 731.3 L634.7 750 M589.9 384.7 L605.3 413.5 L599.5 418 L606.7 426 L616 432.7 L616.5 440.7 L622.7 436.7 L626.7 439.3 L634.7 434 L653.3 432.7 L658.1 438 L657.3 447.3 L648 455.3 L641.3 458.5 L656 463.3 L664 470 L672 472.7 L673.3 480.7 L681.3 482 L684 487.3 L693.3 490 L700 484.7 L694.7 479.3 L708 474.8 L718.7 478 L726.7 472.7 L744 470 L747.5 479.3 L741.3 491.3 L730.7 496.7 L732 503.3 L728 507.3 L736 514 L748 522 M748 522 L757.3 523.3 L770.7 534 L773.3 547.3 L777.3 552.7 L773.3 562 L784 570 L794.7 574 L800 576.7 M696 627.3 L709.3 620.7 L704 611.3 L701.3 608.7 L718.7 602 L724 606 L725.3 614 L745.3 616.7 L752 626 L749.3 636.7 L760 643.3 L776 642 L777.3 636.7 L785.3 638 M182 599.6 L200 597 L203 586 L211 573 L226 574 L240 577.6 L250 573 L260 565.6 L269 566 L272 572 L284 574 L300 573 L312 566 L322 563.6 L330 567 L340 562 L344 553.6 L358 550 L372 547.6 L392 545 L404 550 L418 555 M748.1 522 L768.7 515.3 L783.3 511.3 L784.7 494 L791.3 478 L802 471.3 L807.3 474 L809.2 480.7 L799.3 498 L815.3 504.7 L824.7 510 M799.9 576.9 L800.7 563.3 L807.3 554 L798 542 L802 530 L816.7 528.7 L816.7 516.7 L824.7 510 M824.7 510 L835.3 515.3 L848.7 510 L855.3 503.3 L856.7 495.3 L867.3 486 L875.3 475.3 L883.3 470 L894 472.7 L903.3 467.3 L910 464.7 L920.7 462 L926 452.7 L934 448.7 L947.3 447.3 L960.7 443.3 L971.3 442 L967.3 430 L964.7 422 L972.7 412.7 L972.7 403.3 L979.3 400.7 M1031.9 391.9 L1043.3 390 L1052.7 388.7 L1058 396.7 L1060.7 406 L1064.7 420.7 L1076.7 422 L1086 422 L1090 414 L1086 400.7 L1092.7 395.3 L1099.3 400.7 L1104.7 411.3 L1115.3 403.3 L1128.7 396.7 L1142 390 L1144.7 390 M1086 422 L1078 432.7 L1083.3 440.7 L1094 446 L1099.3 456.7 M903.3 467.3 L898 478 L895.3 491.3 L890 502 L891.3 510 L895.3 516.7 L887.3 531.3 L888.7 552.7 L890 568.7 L884.7 582 L884.7 594 M971.3 442 L968.7 452.7 L978 456.7 L979.3 467.3 L971.3 478 L962 483.3 L958 494 L963.3 504.7 L970 515.3 L963.3 531.3 L956.7 542 L960.7 548.7 M960.7 548.7 L958 560.7 L954 570 L947.3 574 L936.7 576.7 L923.3 578 L910 586 L894 591.3 L884.7 594 M960.7 548.7 L971.3 551.3 L984.7 554 L988.7 555.3 L999.3 555.3 L995.9 547.9 L998 539.9 L1007.9 532.9 L1015.9 523.1 L1019.9 519.1 L1030 511.1 L1042 511.1 L1047.9 509.5 L1055.3 500.7 M988.7 555.3 L988.4 564.9 L988.9 574 L986 579.9 L991.9 583.9 L998 588.9 L999.9 595.1 L1010 594 L1016.7 593.2 M1016.7 593.2 L1024.7 584.7 L1032.7 590 L1039.3 596.7 L1051.3 591.3 L1060.7 598 L1070 591.3 L1076.7 584.7 L1084.7 582 M1016.7 593.2 L1032.7 598 L1043.3 603.3 L1054 614 L1059.3 624.7 L1063.3 639.3 L1078 640.7 L1084.7 638 L1083.3 646 L1070 651.3 L1066 659.3 L1075.3 670 L1076.7 679.3 L1091.3 682 L1094 683.3 M1016.7 593.2 L1018 599.3 L1026 603.3 L1024.7 612.7 L1014 616.7 L998 619.3 L988.7 631.3 L994 636.7 L995.3 643.3 L1010 647.3 L1010 659.3 L1000.7 668.7 L998 675.3 M884.7 594 L888.7 603.3 L895.3 614 L899.3 619.3 L900.7 628.7 L910 642 L923.3 648.7 L939.3 651.3 L952.7 650 L962 654 L963.3 662 L976.7 667.3 L987.3 672.7 L998 675.3 L1012.7 684.7 L1007.3 694 L1012.7 704.7 L1015.3 715.3 L1027.3 710 L1030 719.3 L1040.7 715.3 L1051.3 722 L1062 726 L1078 715.3 L1086 707.3 L1092.7 694 L1094 683.3 M900.7 628.7 L888.7 630 L867.3 628.7 L874 634 L875.3 639.3 L882 640.7 L878 644.7 L867.3 648.7 L867.3 659.3 L870 667.3 L859.3 666 L843.3 654 L835.3 655.3 L824.7 648.7 L810 640.7 L786 638 M786 638 L784.7 627.3 L799.3 619.3 L798 608.7 L803.3 600.7 L796.7 594 L800.7 584.7 L814 586 L824.7 583.3 L826 576.7 L842 572.7 L847.3 560.7 L847.3 547.3 L832.7 540.7 L819.3 534 L816.7 528.7 M870 667.3 L880.7 676.7 L880.7 686 L868.7 694 L856.7 696.7 L843.3 699.3 L842 716.7 L852.7 720.7 L851.3 728.7 L860.7 735.3 L859.3 750 M843.3 654 L839.3 660.7 L844.7 667.3 L838 674 L824.7 683.3 L820.7 694 L815.3 702 L804.7 710 L795.3 703.3 L783.3 700.7 L778 707.3 L780.7 714 L772.7 720.7 L779.3 731.3 L784.7 742 L790 750 M860.7 735.3 L867.3 723.3 L878 719.3 L888.7 718 L890 708.7 L899.3 707.3 L915.3 712.7 L928.7 720.7 L942 722 L947.3 715.3 L958 716.7 L960.7 728.7 L966 735.3 L976.7 728.7 L990 726 L1003.3 719.3 L1015.3 715.3 M1032.7 467.3 L1042 451.3 L1046 447.3 L1052.7 455.3 L1048.7 462 L1056.7 471.3 L1054 476.7 M1032.7 467.3 L1028.7 480.7 L1032.7 488.7 L1044.7 491.3 L1051.3 492.7 M966.7 735.3 L973.3 751.3 L965.3 762 L958.7 772.7 L965.3 783.3 L964 795.3 L970.7 808.7 L965.3 820.7 L966.7 828.7 L984 831.3 L976 842 L973.3 848.7 L986.7 848.7 L998.7 844.7 L1008 850 L1009.3 842 L1010.7 831.3 L1018.7 815.3 L1024 802 L1025.3 790 L1037.3 783.3 L1036 771.3 L1046.7 763.3 L1061.3 759.3 L1069.3 755.3 L1066.7 743.3 L1058.7 732.7 L1061.9 726 M1069.3 755.3 L1074.7 764.7 L1078.7 775.3 L1093.3 771.3 L1101.3 779.3 L1112 778 L1113.3 783.3 M1009.3 842 L1021.3 843.3 L1030.7 848.7 L1034.7 860.7 L1038.7 874 M966.7 828.7 L957.3 827.3 L949.3 827.3 L944 834 L945.3 840.7 L938.7 840.7 L928 834 L925.3 843.3 L921.3 846 L924 852.7 L917.3 863.3 L918.7 871.3 L909.3 879.3 L909.3 891.3 L894.7 900.7 L893.3 908.7 L885.3 914 L886.7 919.3 L876 922 L872 928.7 M921.3 846 L910.7 847.3 L909.3 836.7 L900 839.3 L902.7 830 L909.3 820.7 L906.7 807.3 L898.7 804.7 L885.3 810 L872 814 L865.3 811.3 L862.7 802 L866.7 794 L864 786 L852 786 L857.3 780.7 L865.3 772.7 L862.7 756.7 L860 751.3 L859.2 750 M865.3 811.3 L857.3 820.7 L846.7 823.3 L837.3 827.3 L828 834 L816 824.7 L808 828.7 L800 834 M860 751.3 L857.3 752.7 L853.3 756.7 L848 747.3 L840 735.3 L829.3 735.3 L820 732.7 L810.7 742 L800 744.7 M634.7 749.9 L638.7 756 L645.3 741.3 L652 749.3 L656 757.3 L660 768 L666.7 764 L673.3 776 L681.3 789.3 L686.7 798.7 L694.7 812 L702.7 806.7 L713.3 805.3 L721.3 804 L721.9 797.3 L718.7 786.7 L718.7 777.3 L726.7 770.7 L732 760 L738.7 753.3 L740 746.1 L750.7 746.1 L750.7 757.3 L756 765.3 L765.3 760 L772 766.7 M633.3 733.3 L628 740 L622.7 737.3 L622.7 745.3 L625.3 754.7 L618.7 757.9 L613.3 754.1 L612 760 M772 766.7 L773.3 776 L762.7 778.7 L750.7 776 L742.7 777.3 L734.7 786.7 L737.3 798.7 L750.7 796 L758.7 802.7 L753.3 813.3 L750.7 822.7 L757.3 829.3 L761.3 834.7 L754.7 845.3 L757.3 853.3 L766.7 853.3 L774.7 861.3 L789.3 862.7 L792 870.7 L785.3 877.3 L777.3 882.7 L777.3 886.7 M757.3 853.3 L766.7 841.3 L777.3 844 L789.3 848 L793.3 841.3 L801.3 836 M772 766.7 L782.7 769.3 L794.7 766.7 L793.3 758.7 L782.7 754.7 L780 748 L786.7 744 L789.9 749.9 L800 744.5 M1143.3 116 L1142 124 L1130 133.3 L1143.3 141.3 L1151.3 137.3 L1160.7 144 L1164.7 157.3 L1168.7 166.7 L1178 168 L1188.7 165.3 L1199.3 166.7 L1210 164 L1218 158.7 L1226 160 L1238 174.7 L1232.7 185.3 L1227.3 193.3 L1220.7 200 L1220.7 216 L1220.3 218.7 L1216.5 221.9 L1210.9 221.9 L1207.2 229.9 L1204.4 237.3 L1205.3 243.9 L1202.1 249 L1197.4 237.3 L1189.5 243.9 L1181.1 250.9 L1175.9 252.7 L1173.6 256.5 L1165.2 260.7 L1159.6 264.4 L1156.8 268.6 L1164.7 275.6 L1167.1 277.5 L1168.9 283.1 L1170.8 283.5 L1174.1 281.2 L1176.9 277.5 L1181.1 278.4 L1183.4 280.3 L1183.4 284.9 L1175.5 285.4 L1170.8 286.8 L1169.9 288.7 L1170.8 292.4 L1173.6 295.7 L1177.3 296.1 L1186.7 295.9 L1189 294.3 M1188.7 294.7 L1192.7 306.7 L1202 314.7 L1212.7 315.5 L1223.3 313.3 L1231.3 316 L1236.7 321.3 L1247.3 322.7 L1259.3 326.7 L1260.7 334.7 L1271.3 340 L1279.3 352 L1284.7 349.3 L1289.5 338.7 L1292.4 348.8 L1296.9 357.3 L1301.7 365.1 L1307.3 364.8 L1310 359.2 L1323.1 354.4 L1328.7 354.4 L1335.3 353.6 L1338 361.9 L1347.3 367.5 L1354 366.7 M1172.7 296.1 L1171.3 300.3 L1165.7 300.8 L1164.3 309.2 L1162.9 310.6 L1158.2 305.9 L1156.3 304.5 L1154 306.4 L1149.3 304.1 L1145.6 302.2 L1141.9 302.7 L1139.3 306.7 L1148.7 313.3 L1151.3 324 L1150 334.7 L1154 346.7 L1171.3 341.3 L1175.3 350.7 L1178.4 354.9 L1180 361.3 L1176.8 365.6 L1181.1 366.7 L1185.3 367.2 L1187.5 366.7 L1188.5 368.8 L1193.9 372 L1200.3 377.3 L1202.4 382.7 L1206.7 380.5 L1210.4 376.3 L1212 375.2 L1213.1 382.7 L1217.3 391.2 L1220.5 396.5 L1224.8 401.9 L1221.1 408.3 L1223.7 414.7 L1228 421.1 L1232.3 427.5 L1229.1 432.8 M1144.8 390.1 L1146.9 385.9 L1155.5 383.2 L1162.9 383.7 L1166.1 385.3 L1173.6 382.7 L1176.8 378.4 L1184.3 375.2 L1185.3 367.2 M1131.7 672 L1128.7 674 L1127.3 678 L1126.3 682 L1122.7 683.3 L1124.3 687.3 L1126.3 689.7 L1129.3 691.7 L1130.7 693.7 M1132.7 671.9 L1131.3 669.3 L1129.3 667.3 L1127.7 666.3 L1130 663.3 L1132.7 663.1 L1134.3 666 L1140.7 668 L1146.7 669.7 M1122.7 683.3 L1118.7 686 L1116.7 688.7 L1113.3 691.3 L1112 687.3 L1110 687 L1105.3 687.3 L1102.7 684 L1100.7 681.3 L1094.7 681.3 M1000 457 L1004 453 L1008 449 L1008 442 L1016 438 L1022 432 L1026 429.6 L1032 436 L1040 439 L1046 439 L1041 443 L1043 450 L1038 454 L1030 456 L1032 464 L1024 466 L1021 469 L1014 466 L1004 466 L1001 462 L1000 457" fill="none" stroke="#666666" stroke-width="1"/>
<path d="M1165 849 L1158.4 878" fill="none" stroke="#555555" stroke-width="1.2"/>
<path d="M1145 923 L1128 946" fill="none" stroke="#555555" stroke-width="1.2"/>
<path d="M862 1063 L867 1069 L871 1077 L874 1084 L875 1091" fill="none" stroke="#555555" stroke-width="1.2"/>
<path d="M1102.7 991.3 L1090.1 1017.5" fill="none" stroke="#555555" stroke-width="1.2"/>
<path d="M1081.3 1067.2 L1081.3 1094.7" fill="none" stroke="#555555" stroke-width="1.2"/>
<path d="M1079.5 1170.1 L1076 1184 L1069.3 1198.7" fill="none" stroke="#555555" stroke-width="1.2"/>
<path d="M1018.7 1273.3 L1001.3 1294.7" fill="none" stroke="#555555" stroke-width="1.2"/>
<path d="M942.7 1381.3 L928 1386.7 L917.3 1390.1" fill="none" stroke="#555555" stroke-width="1.2"/>
<path d="M837.9 1296 L836.8 1306.7 L840 1323.2" fill="none" stroke="#555555" stroke-width="1.2"/>
<path d="M884.8 1164 L884 1177.3 L879.5 1189.9" fill="none" stroke="#555555" stroke-width="1.2"/>
<path d="M910 1039.8h1.5v1.5h-1.5z M927.8 1043.3h1.5v1.5h-1.5z M928.6 1048.1h1.5v1.5h-1.5z M914 1055.3h1.5v1.5h-1.5z M915.3 1062.5h1.5v1.5h-1.5z M922.5 1059.3h1.5v1.5h-1.5z M932.6 1060.1h1.5v1.5h-1.5z M935.8 1055.3h1.5v1.5h-1.5z M934 1066.5h1.5v1.5h-1.5z M918 1066h1.5v1.5h-1.5z M927.3 1075.3h1.5v1.5h-1.5z M966 1072.6h1.5v1.5h-1.5z M970 1067.3h1.5v1.5h-1.5z M976.6 1066h1.5v1.5h-1.5z M983.3 1063.3h1.5v1.5h-1.5z M987.3 1067.3h1.5v1.5h-1.5z M979.3 1077.2h1.5v1.5h-1.5z M964.6 1080.6h1.5v1.5h-1.5z M1027.8 1059.3h1.5v1.5h-1.5z M1051.3 1089.4h1.5v1.5h-1.5z M998.8 1120.1h1.5v1.5h-1.5z M982 1183.3h1.5v1.5h-1.5z M1028.1 1183.3h1.5v1.5h-1.5z M983.3 1194h1.5v1.5h-1.5z M988.6 1198h1.5v1.5h-1.5z M978.5 1200.6h1.5v1.5h-1.5z M969.2 1197.2h1.5v1.5h-1.5z M1040.6 1194h1.5v1.5h-1.5z M1050 1195.3h1.5v1.5h-1.5z M1052.1 1200.6h1.5v1.5h-1.5z M1042 1203.3h1.5v1.5h-1.5z M1024.6 1211.3h1.5v1.5h-1.5z M1007.3 1208.6h1.5v1.5h-1.5z M1040.6 1212.1h1.5v1.5h-1.5z M1042.5 1219.3h1.5v1.5h-1.5z M958.8 1214.8h1.5v1.5h-1.5z M963.8 1219.3h1.5v1.5h-1.5z M974 1213.4h1.5v1.5h-1.5z M983.3 1212.1h1.5v1.5h-1.5z M996.6 1215.8h1.5v1.5h-1.5z M1012.6 1218.5h1.5v1.5h-1.5z M1002 1223.3h1.5v1.5h-1.5z M982 1222h1.5v1.5h-1.5z M982.8 1228.1h1.5v1.5h-1.5z M1008.6 1228.1h1.5v1.5h-1.5z M1024.1 1227.3h1.5v1.5h-1.5z M999.8 1236.1h1.5v1.5h-1.5z M1011.3 1239.3h1.5v1.5h-1.5z M1022 1242h1.5v1.5h-1.5z M1028.6 1245.2h1.5v1.5h-1.5z M1019.3 1249.4h1.5v1.5h-1.5z M971.3 1237.2h1.5v1.5h-1.5z M959.8 1241.4h1.5v1.5h-1.5z M959.3 1247.3h1.5v1.5h-1.5z M966 1250.5h1.5v1.5h-1.5z M972.1 1252.6h1.5v1.5h-1.5z M981.7 1250h1.5v1.5h-1.5z M934.8 1233.4h1.5v1.5h-1.5z M927.3 1250h1.5v1.5h-1.5z M935.3 1250.5h1.5v1.5h-1.5z M941.2 1249.4h1.5v1.5h-1.5z M915.3 1255.8h1.5v1.5h-1.5z M910 1258h1.5v1.5h-1.5z M995.3 1262h1.5v1.5h-1.5z M1001.4 1259.3h1.5v1.5h-1.5z M944.6 1262h1.5v1.5h-1.5z M951.3 1267.3h1.5v1.5h-1.5z M966 1272.6h1.5v1.5h-1.5z M982 1268.6h1.5v1.5h-1.5z M987.3 1272.6h1.5v1.5h-1.5z M962 1282h1.5v1.5h-1.5z M989.2 1285.2h1.5v1.5h-1.5z M986 1292.1h1.5v1.5h-1.5z M890 1270h1.5v1.5h-1.5z M877.2 1275.3h1.5v1.5h-1.5z M887.8 1277.2h1.5v1.5h-1.5z M914.5 1275.3h1.5v1.5h-1.5z M922 1270h1.5v1.5h-1.5z M913.4 1280.6h1.5v1.5h-1.5z M942.8 1276.6h1.5v1.5h-1.5z M958.8 1299.3h1.5v1.5h-1.5z M950 1315.3h1.5v1.5h-1.5z M934.8 1324.1h1.5v1.5h-1.5z M934 1330h1.5v1.5h-1.5z M932.1 1332.6h1.5v1.5h-1.5z M935.8 1339.3h1.5v1.5h-1.5z M935.8 1346h1.5v1.5h-1.5z M943.3 1347.8h1.5v1.5h-1.5z M922.5 1377.4h1.5v1.5h-1.5z M927.8 1376.6h1.5v1.5h-1.5z M1092.1 874.1h1.5v1.5h-1.5z M1089.4 884h1.5v1.5h-1.5z M1011.8 938.6h1.5v1.5h-1.5z M1030.8 948h1.5v1.5h-1.5z M944.6 978.6h1.5v1.5h-1.5z M963.3 986.6h1.5v1.5h-1.5z M857.4 938.6h1.5v1.5h-1.5z M1148.6 824h1.5v1.5h-1.5z M1179.3 818.6h1.5v1.5h-1.5z M1184.6 814.1h1.5v1.5h-1.5z M1134.8 898.1h1.5v1.5h-1.5z M1136.6 913.3h1.5v1.5h-1.5z M1110.8 905.8h1.5v1.5h-1.5z M1156.6 692h1.5v1.5h-1.5z M1164.6 692h1.5v1.5h-1.5z M1154 698.6h1.5v1.5h-1.5z M1164.6 706.6h1.5v1.5h-1.5z M1144.6 749.3h1.5v1.5h-1.5z M1126.8 770.6h1.5v1.5h-1.5z M1102 806.6h1.5v1.5h-1.5z M1088.6 884h1.5v1.5h-1.5z M944.3 978.7h1.5v1.5h-1.5z M963.7 986.7h1.5v1.5h-1.5z M856.9 939.3h1.5v1.5h-1.5z M903.3 967.7h1.5v1.5h-1.5z M961.3 915.3h1.5v1.5h-1.5z M971.3 914.3h1.5v1.5h-1.5z M1157.3 692.3h1.5v1.5h-1.5z M1164.6 692.3h1.5v1.5h-1.5z M1154.3 699.3h1.5v1.5h-1.5z M1146 702.3h1.5v1.5h-1.5z M1154.6 704.3h1.5v1.5h-1.5z M1163.6 706.6h1.5v1.5h-1.5z" fill="#666666" stroke="none"/>
</g>
<rect x="31" y="31" width="1438" height="1438" fill="none" stroke="#000000" stroke-width="2"/>
<rect x="72" y="881" width="42" height="43" fill="#ffffe5"/>
<rect x="72" y="923" width="42" height="43" fill="#fffaca"/>
<rect x="72" y="965" width="42" height="43" fill="#fff0ae"/>
<rect x="72" y="1007" width="42" height="43" fill="#fee391"/>
<rect x="72" y="1049" width="42" height="43" fill="#fece65"/>
<rect x="72" y="1091" width="42" height="43" fill="#feb642"/>
<rect x="72" y="1133" width="42" height="43" fill="#fe9929"/>
<rect x="72" y="1175" width="42" height="43" fill="#f27e1b"/>
<rect x="72" y="1217" width="42" height="43" fill="#e1640e"/>
<rect x="72" y="1259" width="42" height="43" fill="#cc4c02"/>
<rect x="72" y="1301" width="42" height="43" fill="#aa3c03"/>
<rect x="72" y="1343" width="42" height="43" fill="#882f05"/>
<rect x="72" y="1385" width="42" height="42" fill="#662506"/>
</svg>
<div class="t title">O-MF35937_</div>
<div class="t ltitle">相对占比</div>
<div class="t lab" style="top:887px">0.011% - 0.011%</div>
<div class="t lab" style="top:929px">0.011% - 0.059%</div>
<div class="t lab" style="top:971px">0.059% - 0.081%</div>
<div class="t lab" style="top:1013px">0.081% - 0.133%</div>
<div class="t lab" style="top:1055px">0.133% - 0.154%</div>
<div class="t lab" style="top:1097px">0.154% - 0.175%</div>
<div class="t lab" style="top:1139px">0.175% - 0.201%</div>
<div class="t lab" style="top:1181px">0.201% - 0.244%</div>
<div class="t lab" style="top:1223px">0.244% - 0.283%</div>
<div class="t lab" style="top:1265px">0.283% - 0.318%</div>
<div class="t lab" style="top:1307px">0.318% - 0.485%</div>
<div class="t lab" style="top:1349px">0.485% - 0.758%</div>
<div class="t lab" style="top:1391px">0.758% - 1.449%</div>
<div class="t credit">作者:O1a溯源群</div>
</body>
</html>
